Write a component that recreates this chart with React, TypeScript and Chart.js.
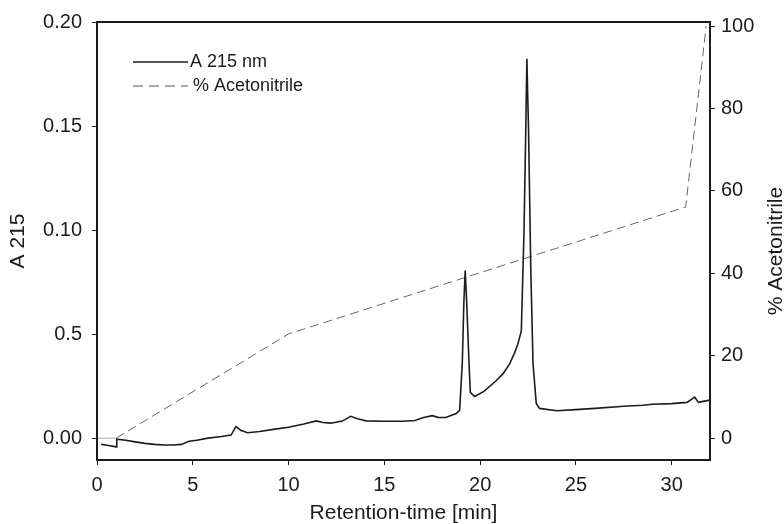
import React, { useEffect, useRef } from "react";
import { Chart, registerables } from "chart.js";

Chart.register(...registerables);

// Absorbance trace (A 215 nm)
const traceTime = [
  0.22, 0.6, 1.0, 1.03, 1.5, 2.0, 2.5, 3.0, 3.5, 4.0, 4.4, 4.8, 5.2, 5.8, 6.5, 7.0, 7.25, 7.5, 7.85,
  8.5, 9.2, 10.0, 10.8, 11.45, 11.8, 12.2, 12.8, 13.25, 13.6, 14.05, 15.0, 16.0, 16.6, 17.0, 17.5,
  17.8, 18.2, 18.75, 18.93, 19.07, 19.15, 19.22, 19.3, 19.42, 19.49, 19.71, 20.2, 20.85, 21.2, 21.54,
  21.8, 21.97, 22.15, 22.29, 22.38, 22.44, 22.53, 22.64, 22.76, 22.93, 23.1, 24.0, 25.0, 26.0, 27.5,
  28.5, 29.0, 30.0, 30.8, 31.2, 31.4, 31.7, 32.0,
];
const traceAbs = [
  -0.003, -0.0035, -0.0042, -0.0005, -0.001, -0.0018, -0.0025, -0.003, -0.0033, -0.0033, -0.003,
  -0.0015, -0.001, 0.0, 0.0008, 0.0015, 0.0055, 0.0038, 0.0026, 0.0032, 0.0042, 0.0052, 0.0068,
  0.0083, 0.0075, 0.0072, 0.0082, 0.0105, 0.0093, 0.0083, 0.0081, 0.0081, 0.0085, 0.0098, 0.0108,
  0.01, 0.0099, 0.0118, 0.0134, 0.036, 0.065, 0.0805, 0.065, 0.036, 0.022, 0.02, 0.0225, 0.0277,
  0.031, 0.0357, 0.041, 0.0452, 0.0515, 0.099, 0.147, 0.1823, 0.147, 0.0835, 0.036, 0.0167, 0.0143,
  0.0132, 0.0137, 0.0143, 0.0153, 0.0158, 0.0163, 0.0166, 0.0172, 0.0197, 0.0172, 0.0178, 0.0183,
];

// Gradient (% Acetonitrile)
const gradientTime = [0, 1.0, 10.0, 30.73, 31.8];
const gradientPct = [0, 0, 25.3, 56.1, 100];

// Axes
const xTicks = [0, 5, 10, 15, 20, 25, 30];
const absTickValues = [0, 0.05, 0.1, 0.15, 0.2];
const absTickLabels = ["0.00", "0.5", "0.10", "0.15", "0.20"];
const pctTicks = [0, 20, 40, 60, 80, 100];

const seriesNames = ["A 215 nm", "% Acetonitrile"];

const FONT = "'Liberation Sans', Arial, Helvetica, sans-serif";
const INK = "#1c1c1c";

const framePlugin = {
  id: "frameAndLegend",
  afterDraw(chart: any) {
    const { ctx, chartArea } = chart;
    const { left, right, top, bottom } = chartArea;
    ctx.save();
    // frame
    ctx.strokeStyle = INK;
    ctx.lineWidth = 2;
    ctx.setLineDash([]);
    ctx.strokeRect(left, top, right - left, bottom - top);

    // legend
    const lx0 = left + 36;
    const lx1 = left + 91;
    const ly1 = top + 40;
    const ly2 = top + 64;
    ctx.lineWidth = 1.6;
    ctx.strokeStyle = INK;
    ctx.beginPath();
    ctx.moveTo(lx0, ly1);
    ctx.lineTo(lx1, ly1);
    ctx.stroke();
    ctx.lineWidth = 1;
    ctx.strokeStyle = "#555";
    ctx.setLineDash([10, 6]);
    ctx.beginPath();
    ctx.moveTo(lx0, ly2);
    ctx.lineTo(lx1, ly2);
    ctx.stroke();
    ctx.setLineDash([]);
    ctx.fillStyle = INK;
    ctx.font = `18px ${FONT}`;
    ctx.textBaseline = "middle";
    ctx.textAlign = "left";
    ctx.fillText(seriesNames[0], lx1 + 2, ly1);
    ctx.fillText(seriesNames[1], lx1 + 5, ly2);

    // right axis title (reads bottom to top)
    ctx.font = `21px ${FONT}`;
    ctx.translate(776, 251);
    ctx.rotate(-Math.PI / 2);
    ctx.textAlign = "center";
    ctx.fillText(seriesNames[1], 0, 0);
    ctx.restore();
  },
};

export default function App() {
  const ref = useRef<HTMLCanvasElement | null>(null);

  useEffect(() => {
    document.body.style.margin = "0";
    const canvas = ref.current;
    if (!canvas) return;
    const chart = new Chart(canvas, {
      type: "line",
      data: {
        datasets: [
          {
            label: seriesNames[0],
            data: traceTime.map((t, i) => ({ x: t, y: traceAbs[i] })),
            yAxisID: "yAbs",
            borderColor: INK,
            borderWidth: 1.6,
            pointRadius: 0,
            tension: 0,
            fill: false,
          },
          {
            label: seriesNames[1],
            data: gradientTime.map((t, i) => ({ x: t, y: gradientPct[i] })),
            yAxisID: "yPct",
            borderColor: "#666",
            borderWidth: 1,
            pointRadius: 0,
            tension: 0,
            fill: false,
            segment: {
              borderDash: (c: any) => (c.p0DataIndex === 0 ? [] : [9, 5]),
              borderColor: (c: any) => (c.p0DataIndex === 0 ? "#aaa" : "#666"),
            },
          },
        ],
      },
      options: {
        animation: false,
        responsive: true,
        maintainAspectRatio: false,
        layout: { padding: { top: 19, left: 0, right: 0, bottom: 0 } },
        plugins: {
          legend: { display: false },
          tooltip: { enabled: false },
        },
        scales: {
          x: {
            type: "linear",
            min: 0,
            max: 32,
            afterBuildTicks: (s: any) => {
              s.ticks = xTicks.map((v) => ({ value: v }));
            },
            afterFit: (s: any) => {
              s.height = 64;
            },
            border: { display: false },
            grid: { drawOnChartArea: false, drawTicks: true, tickLength: 5, color: INK },
            ticks: {
              color: INK,
              font: { family: FONT, size: 20 },
              padding: 8,
              maxRotation: 0,
              callback: (v: any) => String(v),
            },
            title: {
              display: true,
              text: "Retention-time [min]",
              color: INK,
              font: { family: FONT, size: 21, lineHeight: 1 },
              padding: { top: 0, bottom: 0 },
            },
          },
          yAbs: {
            type: "linear",
            position: "left",
            min: -0.0105,
            max: 0.2,
            afterBuildTicks: (s: any) => {
              s.ticks = absTickValues.map((v) => ({ value: v }));
            },
            afterFit: (s: any) => {
              s.width = 97;
            },
            border: { display: false },
            grid: { drawOnChartArea: false, drawTicks: true, tickLength: 5, color: INK },
            ticks: {
              color: INK,
              font: { family: FONT, size: 20 },
              padding: 10,
              callback: (_v: any, i: number) => absTickLabels[i],
            },
            title: {
              display: true,
              text: "A 215",
              color: INK,
              font: { family: FONT, size: 21, lineHeight: 1 },
              padding: { top: 8, bottom: 0 },
            },
          },
          yPct: {
            type: "linear",
            position: "right",
            min: -5.3,
            max: 101,
            afterBuildTicks: (s: any) => {
              s.ticks = pctTicks.map((v) => ({ value: v }));
            },
            afterFit: (s: any) => {
              s.width = 74;
            },
            border: { display: false },
            grid: { drawOnChartArea: false, drawTicks: true, tickLength: 5, color: INK },
            ticks: {
              color: INK,
              font: { family: FONT, size: 20 },
              padding: 6,
              callback: (v: any) => String(v),
            },
          },
        },
      },
      plugins: [framePlugin],
    });
    return () => chart.destroy();
  }, []);

  return (
    <div style={{ width: 784, height: 524, position: "relative" }}>
      <canvas ref={ref} />
    </div>
  );
}
